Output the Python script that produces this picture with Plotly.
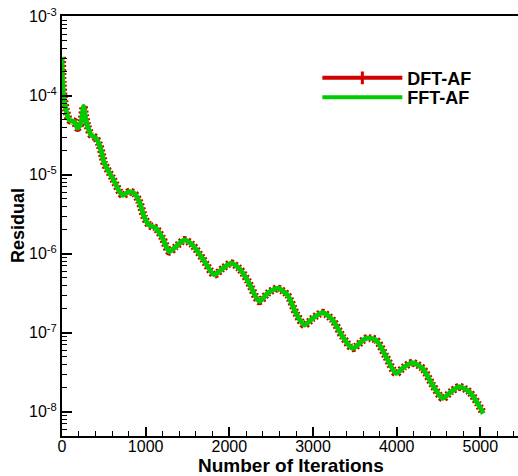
import plotly.graph_objects as go

iterations = [0, 7, 19, 48, 87, 147, 186, 227, 258, 275, 306, 347, 406, 446, 485, 506, 605, 724, 804, 864,
              924, 984, 1043, 1123, 1202, 1282, 1362, 1462, 1561, 1680, 1821, 1919, 2020, 2119, 2218, 2358,
              2457, 2577, 2696, 2797, 2896, 2995, 3115, 3234, 3354, 3473, 3633, 3753, 3872, 3992, 4091, 4190,
              4310, 4429, 4549, 4649, 4748, 4868, 4967, 5035]
dft_res = [3.1e-4, 1.45e-4, 9.7e-5, 6.6e-5, 4.9e-5, 4.7e-5, 3.9e-5, 4.5e-5, 7.3e-5, 5.7e-5, 4.1e-5, 3.2e-5,
           2.9e-5, 2.4e-5, 1.7e-5, 1.39e-5, 9.0e-6, 5.5e-6, 6.1e-6, 5.8e-6, 4.55e-6, 2.9e-6, 2.3e-6, 2.1e-6,
           1.57e-6, 1.06e-6, 1.23e-6, 1.49e-6, 1.29e-6, 8.7e-7, 5.4e-7, 6.5e-7, 7.6e-7, 6.5e-7, 4.6e-7, 2.5e-7,
           3.15e-7, 3.65e-7, 3.0e-7, 1.76e-7, 1.25e-7, 1.52e-7, 1.79e-7, 1.45e-7, 8.9e-8, 6.35e-8, 8.5e-8,
           8.1e-8, 5.0e-8, 3.06e-8, 3.7e-8, 4.17e-8, 3.54e-8, 2.18e-8, 1.48e-8, 1.79e-8, 2.07e-8, 1.79e-8,
           1.28e-8, 9.5e-9]
fft_res = list(dft_res)

ytick_vals = [1e-8, 1e-7, 1e-6, 1e-5, 1e-4, 1e-3]
ytick_text = ["10<sup>-8</sup>", "10<sup>-7</sup>", "10<sup>-6</sup>", "10<sup>-5</sup>", "10<sup>-4</sup>", "10<sup>-3</sup>"]
xtick_vals = [0, 1000, 2000, 3000, 4000, 5000]

RED = "#d40000"
GREEN = "#00cc00"
FONT = "Liberation Sans, Arial, sans-serif"

fig = go.Figure()
fig.add_trace(go.Scatter(x=iterations, y=dft_res, mode="lines", showlegend=False,
                         line=dict(color=RED, width=8, dash="2px,2px", shape="spline", smoothing=0.7),
                         hoverinfo="skip"))
fig.add_trace(go.Scatter(x=iterations, y=fft_res, mode="lines", showlegend=False,
                         line=dict(color=GREEN, width=5, shape="spline", smoothing=0.7)))
fig.add_trace(go.Scatter(x=[None], y=[None], mode="lines+markers", name="<b>DFT-AF</b>",
                         legend="legend",
                         line=dict(color=RED, width=4),
                         marker=dict(symbol="line-ns-open", size=9, color=RED, line=dict(color=RED, width=3))))
fig.add_trace(go.Scatter(x=[None], y=[None], mode="lines", name="<b>FFT-AF</b>",
                         legend="legend2",
                         line=dict(color=GREEN, width=4)))

legend_common = dict(xanchor="left", yanchor="middle", bgcolor="rgba(0,0,0,0)",
                     font=dict(size=18, family=FONT, color="black"), itemwidth=80)

fig.update_layout(
    width=518, height=476,
    margin=dict(l=62, r=0, t=16, b=40),
    paper_bgcolor="white", plot_bgcolor="white",
    font=dict(family=FONT, color="black", size=16),
    showlegend=True,
    legend=dict(x=0.56, y=0.852, **legend_common),
    legend2=dict(x=0.56, y=0.806, **legend_common),
    xaxis=dict(range=[0, 5450], tickvals=xtick_vals, ticks="inside", ticklen=9, tickwidth=2,
               tickcolor="black", showline=True, linecolor="black", linewidth=2, mirror=True,
               showgrid=False, zeroline=False, ticklabelstandoff=-5,
               minor=dict(dtick=200, ticks="inside", ticklen=5, tickwidth=1, tickcolor="black"),
               tickfont=dict(size=16, family=FONT)),
    yaxis=dict(type="log", range=[-8.307, -2.991], tickvals=ytick_vals, ticktext=ytick_text,
               ticks="inside", ticklen=10, tickwidth=2, tickcolor="black",
               showline=True, linecolor="black", linewidth=2, mirror=False,
               showgrid=False, zeroline=False,
               minor=dict(dtick="D1", ticks="inside", ticklen=5, tickwidth=1, tickcolor="black"),
               tickfont=dict(size=16, family=FONT)),
    annotations=[
        dict(text="<b>Number of Iterations</b>", xref="paper", yref="paper", x=0.502, y=0,
             xanchor="center", yanchor="bottom", yshift=-42, showarrow=False,
             font=dict(size=19, family=FONT, color="black")),
        dict(text="<b>Residual</b>", xref="paper", yref="paper", x=0, y=0.5, textangle=-90,
             xanchor="center", yanchor="middle", xshift=-44, showarrow=False,
             font=dict(size=18, family=FONT, color="black")),
    ],
)

fig.write_html("out.html")
